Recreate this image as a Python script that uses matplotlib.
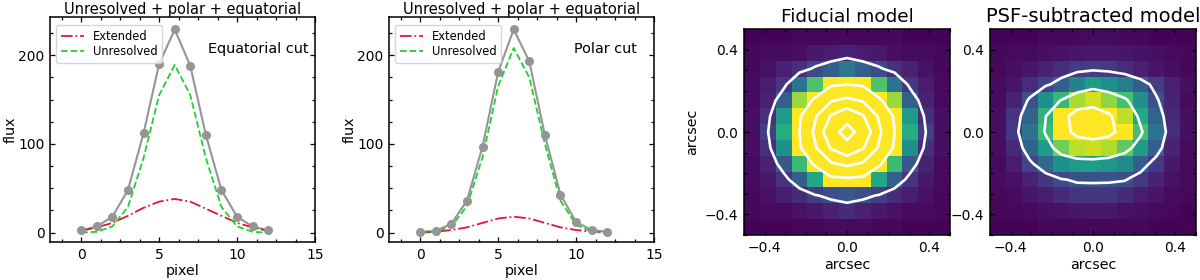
import numpy as np
import matplotlib
matplotlib.use("Agg")
import matplotlib.pyplot as plt
from matplotlib.ticker import AutoMinorLocator

pixels = list(range(13))
eq_total = [2.5, 7, 18, 48, 112, 190, 229, 188, 110, 48, 18, 7, 2.5]
eq_unresolved = [0, 1, 7, 29, 84, 155, 189, 155, 84, 29, 7, 1, 0]
eq_extended = [2, 6, 11, 19, 28, 35, 38, 35, 27, 19, 11, 6, 2]
pol_total = [1, 2, 10, 36, 97, 181, 229, 193, 110, 43, 12, 3, 1]
pol_unresolved = [0, 1, 7, 30, 85, 165, 208, 175, 100, 36, 9, 1, 0]
pol_extended = [0, 1, 3, 6, 11, 16, 18, 16, 11, 6, 3, 1, 0]

fiducial = [
    [.01, .01, .01, .02, .02, .02, .02, .02, .02, .02, .01, .01, .01],
    [.02, .03, .03, .04, .07, .08, .10, .08, .07, .04, .03, .03, .02],
    [.02, .05, .09, .14, .22, .30, .40, .30, .22, .14, .09, .05, .02],
    [.03, .08, .16, .38, .72, 1.5, 1.6, 1.5, .72, .38, .16, .08, .03],
    [.03, .10, .30, .85, 1.8, 2.5, 2.8, 2.5, 1.8, .85, .30, .10, .03],
    [.04, .14, .55, 1.5, 2.5, 3.9, 4.8, 3.9, 2.5, 1.5, .55, .14, .04],
    [.04, .19, .62, 1.6, 2.8, 4.8, 6.0, 4.8, 2.8, 1.6, .62, .19, .04],
    [.04, .14, .50, 1.5, 2.5, 3.9, 4.8, 3.9, 2.5, 1.5, .50, .14, .04],
    [.03, .10, .27, .68, 1.8, 2.5, 2.8, 2.5, 1.8, .68, .27, .10, .03],
    [.03, .07, .15, .30, .60, 1.4, 1.45, 1.4, .60, .30, .15, .07, .03],
    [.02, .05, .08, .12, .19, .24, .27, .24, .19, .12, .08, .05, .02],
    [.02, .03, .03, .05, .07, .09, .12, .09, .07, .05, .03, .03, .02],
    [.01, .01, .01, .02, .02, .03, .03, .03, .02, .02, .01, .01, .01],
]
subtracted = [
    [.01, .01, .01, .02, .02, .02, .03, .03, .02, .02, .01, .01, .01],
    [.02, .03, .03, .04, .05, .06, .07, .07, .06, .05, .04, .03, .02],
    [.02, .04, .06, .09, .13, .17, .19, .17, .13, .09, .06, .04, .02],
    [.03, .06, .13, .20, .30, .44, .55, .50, .42, .30, .18, .09, .04],
    [.03, .10, .25, .50, .67, .87, .93, .83, .70, .50, .25, .10, .03],
    [.04, .16, .32, .65, 1.0, 1.4, 1.5, 1.25, .90, .60, .32, .12, .04],
    [.04, .17, .38, .68, 1.0, 1.3, 1.4, 1.3, 1.0, .70, .38, .13, .04],
    [.04, .12, .32, .55, .78, .90, .92, .88, .75, .55, .30, .10, .03],
    [.03, .08, .20, .33, .50, .55, .56, .53, .48, .30, .17, .07, .03],
    [.03, .05, .10, .16, .22, .25, .25, .25, .24, .17, .10, .05, .03],
    [.02, .03, .06, .08, .12, .15, .16, .15, .12, .08, .06, .03, .02],
    [.02, .02, .03, .04, .05, .06, .07, .07, .05, .04, .03, .02, .01],
    [.01, .01, .01, .02, .02, .02, .02, .02, .02, .02, .01, .01, .01],
]
fiducial_levels = [0.2, 1.6, 2.6, 3.8, 5.4]
subtracted_levels = [0.23, 0.66, 1.18]
offsets = [-0.4615, -0.3846, -0.3077, -0.2308, -0.1538, -0.0769, 0.0,
           0.0769, 0.1538, 0.2308, 0.3077, 0.3846, 0.4615]
line_titles = ["Equatorial cut", "Polar cut"]
img_titles = ["Fiducial model", "PSF-subtracted model"]
main_title = "Unresolved + polar + equatorial"

W, H = 1200, 280
fig = plt.figure(figsize=(12, 2.8), dpi=100)
TICK = 10
LABEL = 10.3


def box(l, t, r, b):
    return [l / W, 1 - b / H, (r - l) / W, (b - t) / H]


def style(ax):
    ax.tick_params(which="both", direction="in", top=True, right=True, width=0.9)
    ax.tick_params(which="major", length=3.8, labelsize=TICK, pad=4)
    ax.tick_params(which="minor", length=2)
    ax.xaxis.set_minor_locator(AutoMinorLocator(4))
    ax.yaxis.set_minor_locator(AutoMinorLocator(4))
    for s in ax.spines.values():
        s.set_linewidth(1.1)


panels = [
    (box(50, 17, 315, 242), eq_total, eq_unresolved, eq_extended, line_titles[0], 0.974),
    (box(389, 17, 654, 242), pol_total, pol_unresolved, pol_extended, line_titles[1], 0.936),
]
for pos, total, unres, ext, label, tx in panels:
    ax = fig.add_axes(pos)
    ax.plot(pixels, ext, "-.", color="#e8123f", lw=1.3, label="Extended")
    ax.plot(pixels, unres, "--", color="#1fd12f", lw=1.3, label="Unresolved")
    ax.plot(pixels, total, "o", color="#959595", ms=5.5, zorder=4)
    ax.plot(pixels, total, "-", color="#959595", lw=1.5, zorder=1.5)
    ax.set_xlim(-2, 15)
    ax.set_ylim(-10.5, 243)
    ax.set_xticks([0, 5, 10, 15])
    ax.set_yticks([0, 100, 200])
    style(ax)
    ax.set_xlabel("pixel", fontsize=LABEL, labelpad=1.5)
    ax.set_ylabel("flux", fontsize=LABEL, labelpad=0.5)
    ax.set_title(main_title, fontsize=10.5, pad=1.5)
    ax.text(tx, 0.858, label, transform=ax.transAxes, ha="right", va="center", fontsize=10.4)
    ax.legend(loc="upper left", bbox_to_anchor=(6 / 265, 1 - 8 / 225), fontsize=8.3,
              borderaxespad=0, handlelength=2, handletextpad=0.8, labelspacing=0.2)

images = [
    (box(744, 29, 950, 235), fiducial, fiducial_levels, img_titles[0], 13.3),
    (box(990, 29, 1196, 235), subtracted, subtracted_levels, img_titles[1], 14),
]
for pos, grid, levels, title, tsize in images:
    ax = fig.add_axes(pos)
    ax.imshow(grid, cmap="viridis", vmin=0, vmax=1, extent=(-0.5, 0.5, -0.5, 0.5),
              origin="upper", interpolation="nearest", aspect="auto")
    ax.contour(offsets, offsets[::-1], grid, levels=levels, colors="white", linewidths=1.9)
    ax.set_xlim(-0.5, 0.5)
    ax.set_ylim(-0.5, 0.5)
    ax.set_xticks([-0.4, 0.0, 0.4])
    ax.set_yticks([-0.4, 0.0, 0.4])
    style(ax)
    ax.set_xlabel("arcsec", fontsize=LABEL, labelpad=2.5)
    ax.set_title(title, fontsize=tsize, pad=5)
    if title == img_titles[0]:
        ax.set_ylabel("arcsec", fontsize=LABEL, labelpad=4.5)

fig.savefig("out.png", dpi=100)
